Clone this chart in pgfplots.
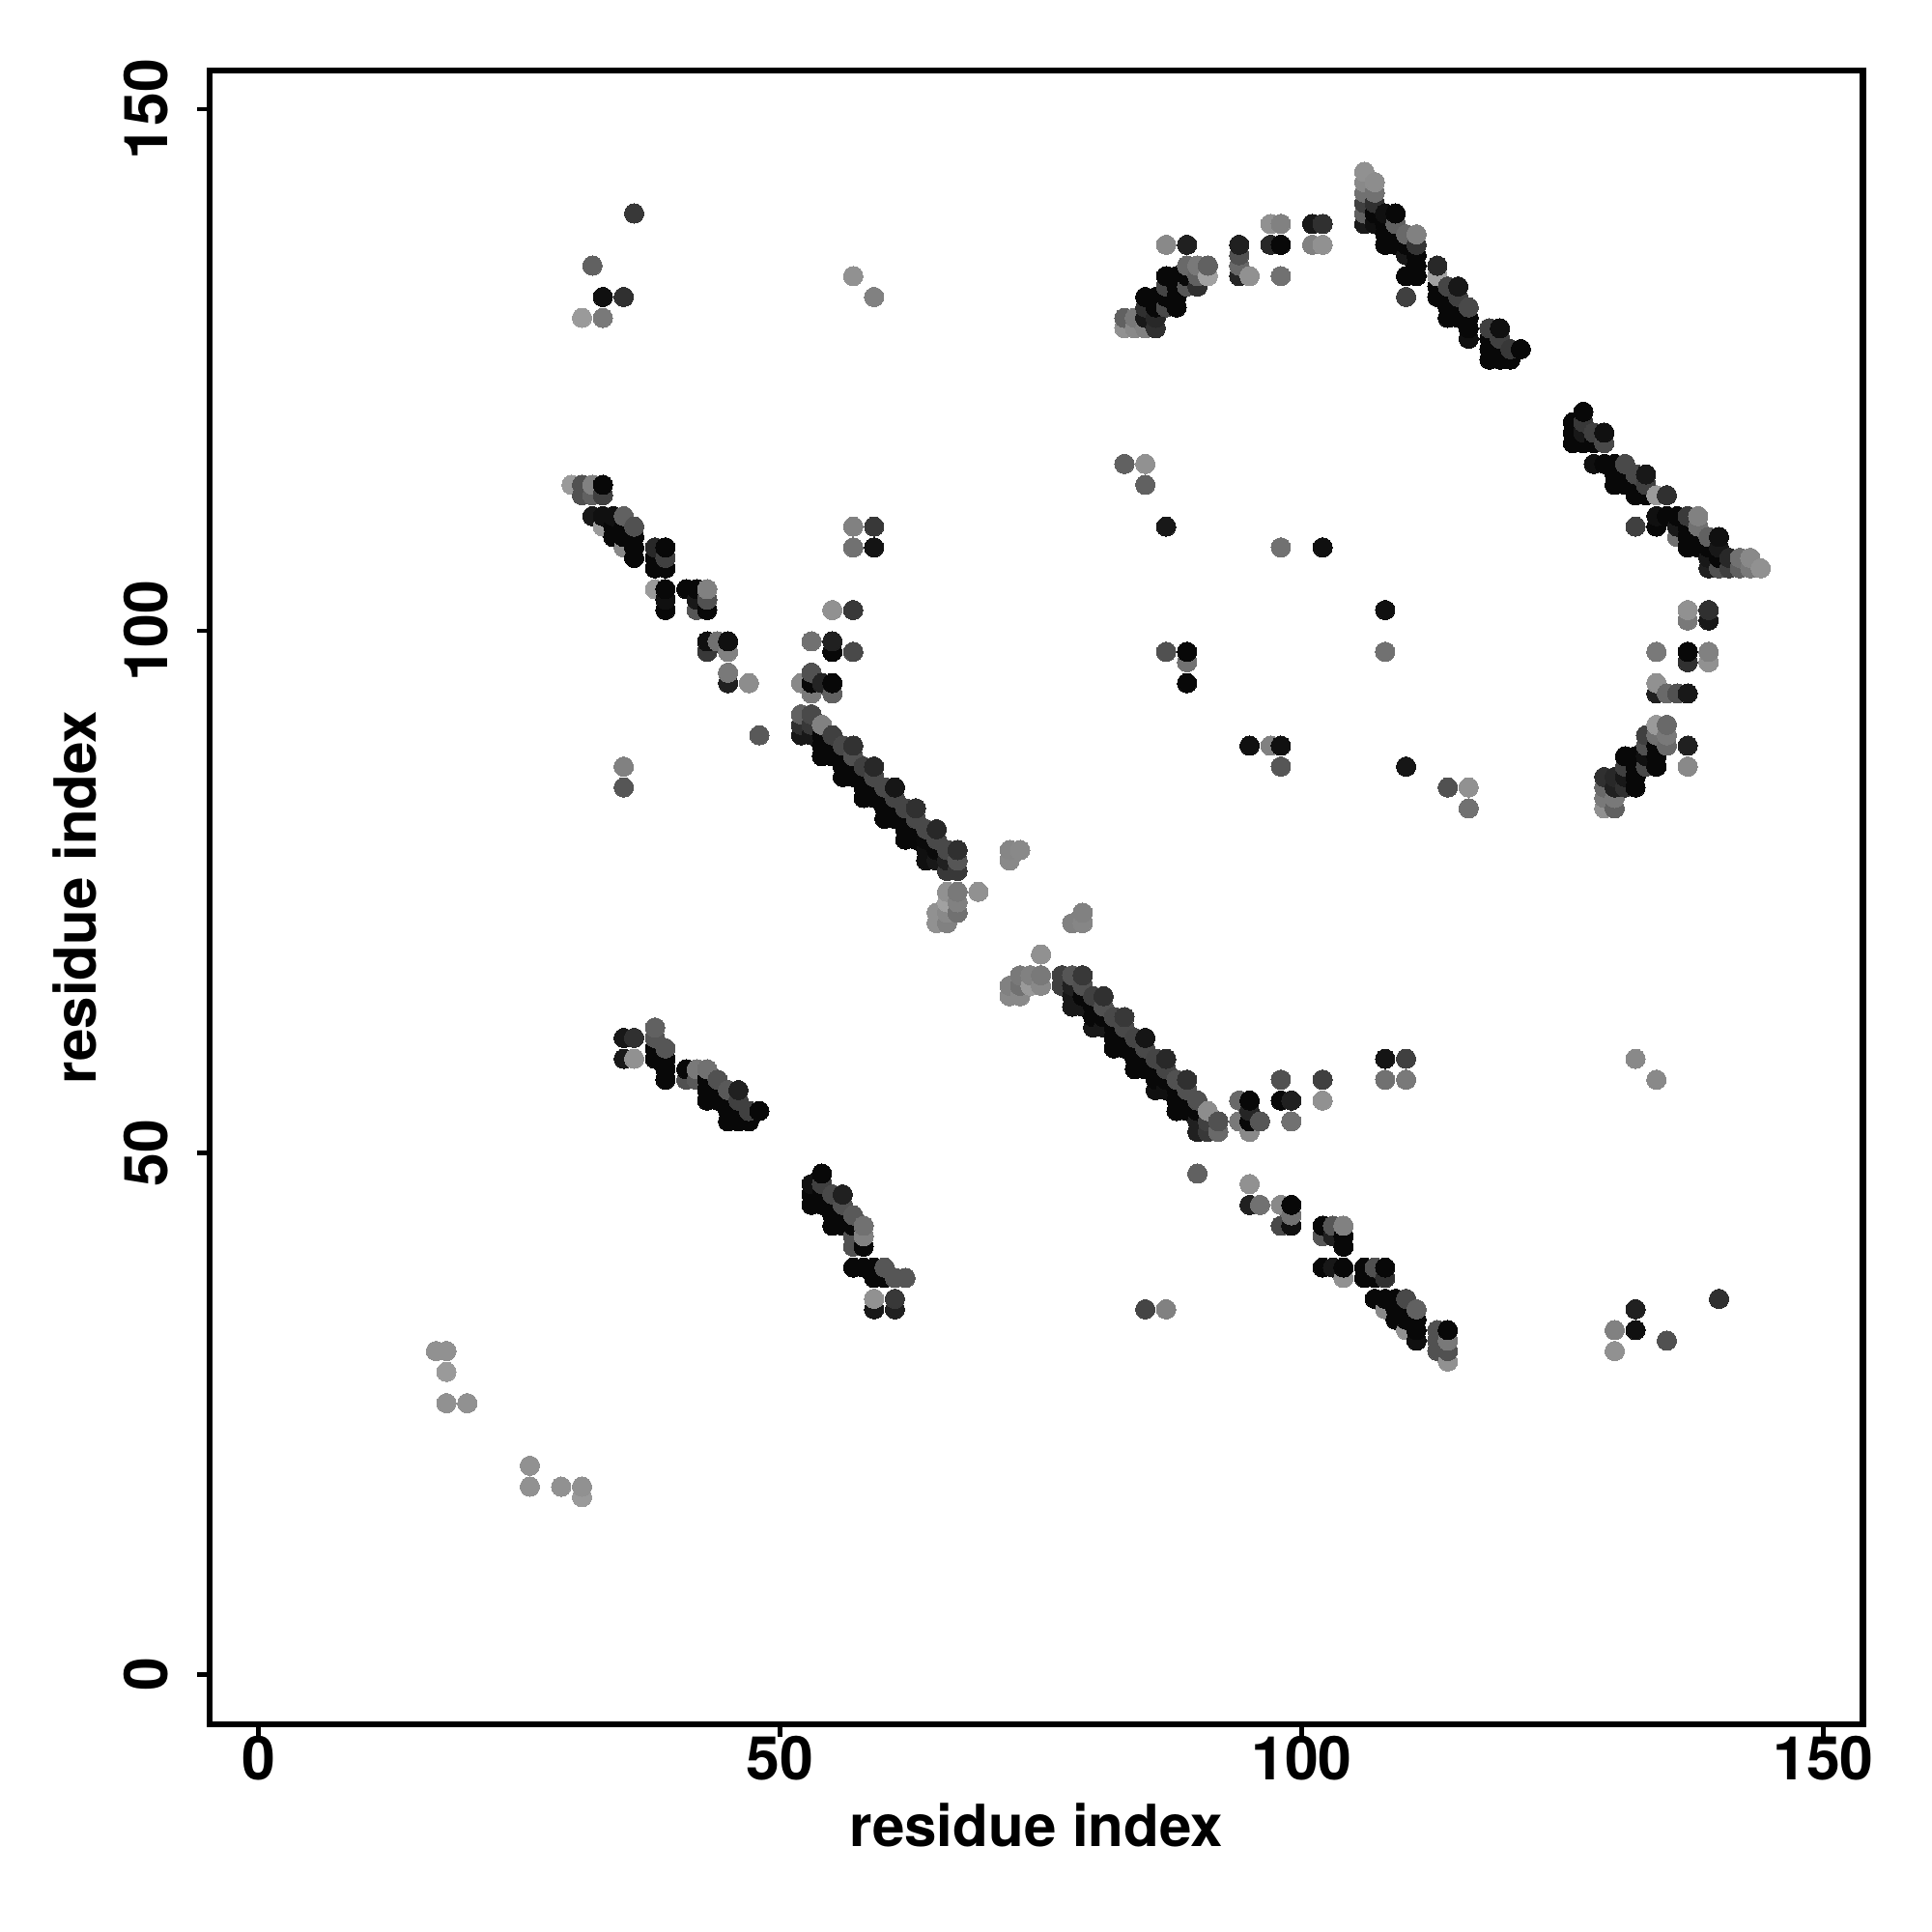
\documentclass[border=0pt]{standalone}
\usepackage{fontspec}
\setmainfont{TeX Gyre Heros}
\usepackage{pgfplots}
\pgfplotsset{compat=1.18}
\begin{document}
\begin{tikzpicture}
\useasboundingbox (-2.17,-2.15) rectangle (17.83,17.85);
\begin{axis}[
scale only axis,
width=17.115cm,
height=17.12cm,
xmin=-4.7, xmax=153.8,
ymin=-4.77, ymax=153.7,
axis line style={line width=1.9pt},
xtick={0,50,100,150},
ytick={0,50,100,150},
tick align=outside,
tick pos=left,
major tick length=3.6pt,
every tick/.style={black,line width=1.3pt},
/pgf/number format/assume math mode=true,
tick label style={font=\fontsize{17.8}{20}\selectfont\bfseries},
label style={font=\fontsize{17.1}{20}\selectfont\bfseries},
yticklabel style={rotate=90,anchor=south},
xticklabel shift=-3.8pt,
yticklabel shift=5pt,
xlabel={residue index},
ylabel={residue index},
xlabel style={yshift=0pt},
ylabel style={yshift=1.2pt},
colormap={g}{color(0cm)=(black); color(1cm)=(white)},
point meta min=0, point meta max=255,
]
\addplot[scatter, only marks, mark=*, mark size=2.85pt, scatter src=explicit,
  mark options={line width=0pt},
  scatter/use mapped color={draw=mapped color,fill=mapped color}]
table[row sep=\\, x=x, y=y, meta=g] {
x y g\\
17 31 144\\
18 26 144\\ 18 29 153\\ 18 31 144\\
20 26 144\\
26 18 144\\ 26 20 144\\
29 18 144\\
30 114 153\\
31 17 153\\ 31 18 144\\ 31 113 80\\ 31 114 80\\ 31 130 153\\
32 111 24\\ 32 113 96\\ 32 114 128\\ 32 135 96\\
33 110 153\\ 33 111 16\\ 33 113 64\\ 33 114 8\\ 33 130 120\\ 33 132 16\\
34 109 8\\ 34 110 8\\ 34 111 16\\
35 59 24\\ 35 61 24\\ 35 85 85\\ 35 87 128\\ 35 108 136\\ 35 109 8\\ 35 110 8\\ 35 111 96\\ 35 132 48\\
36 59 144\\ 36 61 48\\ 36 107 8\\ 36 108 8\\ 36 109 8\\ 36 110 80\\ 36 140 56\\
38 59 8\\ 38 60 8\\ 38 61 85\\ 38 62 96\\ 38 104 153\\ 38 106 8\\ 38 107 8\\ 38 108 40\\
39 57 8\\ 39 58 8\\ 39 59 8\\ 39 60 85\\ 39 102 8\\ 39 103 16\\ 39 104 8\\ 39 106 8\\ 39 107 64\\ 39 108 8\\
41 57 80\\ 41 58 8\\ 41 104 8\\
42 57 88\\ 42 58 120\\ 42 102 85\\ 42 103 24\\ 42 104 8\\
43 55 8\\ 43 56 8\\ 43 57 8\\ 43 58 112\\ 43 98 56\\ 43 99 16\\ 43 102 8\\ 43 103 80\\ 43 104 128\\
44 55 8\\ 44 56 8\\ 44 57 80\\ 44 99 112\\
45 53 8\\ 45 54 8\\ 45 55 8\\ 45 56 88\\ 45 95 32\\ 45 96 120\\ 45 98 128\\ 45 99 16\\
46 53 8\\ 46 54 8\\ 46 55 64\\ 46 56 32\\
47 53 8\\ 47 54 64\\ 47 95 140\\
48 54 8\\ 48 90 88\\
52 90 24\\ 52 91 48\\ 52 92 96\\ 52 95 136\\
53 45 8\\ 53 46 8\\ 53 47 16\\ 53 90 24\\ 53 91 56\\ 53 92 72\\ 53 94 120\\ 53 95 8\\ 53 96 80\\ 53 99 112\\
54 45 8\\ 54 46 8\\ 54 47 64\\ 54 48 8\\ 54 88 8\\ 54 89 8\\ 54 90 8\\ 54 91 128\\ 54 95 36\\
55 43 8\\ 55 44 8\\ 55 45 8\\ 55 46 72\\ 55 88 8\\ 55 89 8\\ 55 90 64\\ 55 94 96\\ 55 95 8\\ 55 98 8\\ 55 99 32\\ 55 102 144\\
56 43 8\\ 56 44 8\\ 56 45 80\\ 56 46 32\\ 56 86 8\\ 56 87 8\\ 56 88 8\\ 56 89 72\\
57 39 8\\ 57 41 80\\ 57 42 80\\ 57 43 8\\ 57 44 88\\ 57 86 8\\ 57 87 8\\ 57 88 80\\ 57 89 50\\ 57 98 72\\ 57 102 56\\ 57 108 112\\ 57 110 128\\ 57 134 144\\
58 39 8\\ 58 41 8\\ 58 42 128\\ 58 43 112\\ 58 84 8\\ 58 85 8\\ 58 86 8\\ 58 87 64\\
59 35 24\\ 59 36 144\\ 59 38 8\\ 59 39 8\\ 59 84 8\\ 59 85 8\\ 59 86 72\\ 59 87 40\\ 59 108 20\\ 59 110 56\\ 59 132 128\\
60 38 8\\ 60 39 85\\ 60 82 8\\ 60 83 8\\ 60 84 8\\ 60 85 72\\
61 35 32\\ 61 36 56\\ 61 38 85\\ 61 82 8\\ 61 83 8\\ 61 84 69\\ 61 85 22\\
62 38 85\\ 62 80 8\\ 62 81 8\\ 62 82 8\\ 62 83 69\\
63 80 8\\ 63 81 8\\ 63 82 72\\ 63 83 48\\
64 78 16\\ 64 79 16\\ 64 80 10\\ 64 81 72\\
65 72 144\\ 65 73 144\\ 65 78 24\\ 65 79 10\\ 65 80 72\\ 65 81 40\\
66 72 128\\ 66 73 136\\ 66 74 160\\ 66 75 144\\ 66 77 56\\ 66 78 32\\ 66 79 72\\
67 73 112\\ 67 74 128\\ 67 75 120\\ 67 77 56\\ 67 78 85\\ 67 79 48\\
69 75 144\\
72 65 136\\ 72 66 128\\ 72 78 136\\ 72 79 133\\
73 65 136\\ 73 66 112\\ 73 67 120\\ 73 79 136\\
74 66 153\\ 74 67 128\\
75 66 136\\ 75 67 120\\ 75 69 144\\
77 66 64\\ 77 67 64\\
78 64 24\\ 78 65 24\\ 78 66 32\\ 78 67 85\\ 78 72 128\\
79 64 24\\ 79 65 8\\ 79 66 80\\ 79 67 56\\ 79 72 133\\ 79 73 128\\
80 62 24\\ 80 63 8\\ 80 64 8\\ 80 65 64\\
81 62 24\\ 81 63 8\\ 81 64 80\\ 81 65 48\\
82 60 8\\ 82 61 8\\ 82 62 8\\ 82 63 72\\
83 60 8\\ 83 61 8\\ 83 62 72\\ 83 63 56\\ 83 116 96\\ 83 129 144\\ 83 130 96\\
84 58 8\\ 84 59 8\\ 84 60 8\\ 84 61 69\\ 84 129 136\\ 84 130 120\\
85 35 69\\ 85 58 8\\ 85 59 8\\ 85 60 72\\ 85 61 21\\ 85 114 96\\ 85 116 144\\ 85 129 128\\ 85 130 24\\ 85 131 48\\ 85 132 8\\
86 56 16\\ 86 57 8\\ 86 58 8\\ 86 59 69\\ 86 129 48\\ 86 130 40\\ 86 131 8\\ 86 132 8\\
87 35 128\\ 87 56 16\\ 87 57 8\\ 87 58 69\\ 87 59 40\\ 87 98 80\\ 87 110 24\\ 87 131 72\\ 87 132 8\\ 87 133 69\\ 87 134 8\\ 87 137 136\\
88 54 8\\ 88 55 8\\ 88 56 8\\ 88 57 80\\ 88 131 8\\ 88 132 8\\ 88 133 8\\ 88 134 8\\
89 54 8\\ 89 55 8\\ 89 56 80\\ 89 57 48\\ 89 95 8\\ 89 97 112\\ 89 98 8\\ 89 133 85\\ 89 134 8\\ 89 135 104\\ 89 137 32\\
90 48 96\\ 90 52 32\\ 90 53 32\\ 90 54 8\\ 90 55 80\\ 90 133 48\\ 90 134 96\\ 90 135 120\\
91 52 56\\ 91 53 64\\ 91 54 140\\ 91 134 160\\ 91 135 96\\
92 52 104\\ 92 53 80\\
94 53 120\\ 94 55 104\\ 94 134 37\\ 94 135 104\\ 94 136 80\\ 94 137 32\\
95 45 32\\ 95 47 144\\ 95 52 136\\ 95 53 8\\ 95 54 37\\ 95 55 8\\ 95 89 16\\ 95 134 144\\
96 45 112\\ 96 53 85\\
97 89 128\\ 97 137 40\\ 97 139 144\\
98 43 72\\ 98 45 136\\ 98 55 8\\ 98 57 80\\ 98 87 85\\ 98 89 16\\ 98 108 112\\ 98 134 112\\ 98 137 8\\ 98 139 128\\
99 43 16\\ 99 44 112\\ 99 45 8\\ 99 53 112\\ 99 55 32\\
101 137 128\\ 101 139 24\\
102 39 8\\ 102 42 85\\ 102 43 8\\ 102 55 144\\ 102 57 64\\ 102 108 16\\ 102 137 144\\ 102 139 48\\
103 39 24\\ 103 42 32\\ 103 43 85\\
104 38 144\\ 104 39 8\\ 104 41 8\\ 104 42 8\\ 104 43 128\\
106 38 8\\ 106 39 8\\ 106 139 26\\ 106 140 96\\ 106 141 64\\ 106 142 112\\ 106 143 136\\ 106 144 144\\
107 36 8\\ 107 38 8\\ 107 39 80\\ 107 139 16\\ 107 140 8\\ 107 141 48\\ 107 142 112\\ 107 143 140\\
108 35 136\\ 108 36 8\\ 108 38 48\\ 108 39 8\\ 108 57 112\\ 108 59 20\\ 108 98 112\\ 108 102 16\\ 108 137 8\\ 108 138 8\\ 108 139 8\\ 108 140 16\\
109 34 8\\ 109 35 8\\ 109 36 8\\ 109 137 8\\ 109 138 8\\ 109 139 96\\ 109 140 8\\
110 33 144\\ 110 34 8\\ 110 35 8\\ 110 36 72\\ 110 57 120\\ 110 59 64\\ 110 87 22\\ 110 132 64\\ 110 134 8\\ 110 136 24\\ 110 137 8\\ 110 138 104\\
111 32 16\\ 111 33 8\\ 111 34 8\\ 111 35 96\\ 111 134 8\\ 111 135 8\\ 111 136 8\\ 111 137 53\\ 111 138 128\\
113 31 80\\ 113 32 80\\ 113 33 80\\ 113 132 8\\ 113 133 8\\ 113 134 160\\ 113 135 40\\
114 30 144\\ 114 31 80\\ 114 32 120\\ 114 33 8\\ 114 85 80\\ 114 130 8\\ 114 131 8\\ 114 132 8\\ 114 133 69\\
115 130 8\\ 115 131 8\\ 115 132 64\\ 115 133 24\\
116 83 112\\ 116 85 144\\ 116 128 16\\ 116 129 8\\ 116 130 8\\ 116 131 72\\
118 126 8\\ 118 127 8\\ 118 128 8\\ 118 129 64\\
119 126 8\\ 119 127 8\\ 119 128 64\\ 119 129 16\\
120 126 8\\ 120 127 56\\
121 127 8\\
126 118 8\\ 126 119 8\\ 126 120 8\\
127 118 8\\ 127 119 24\\ 127 120 56\\ 127 121 8\\
128 116 16\\ 128 118 8\\ 128 119 64\\
129 83 144\\ 129 84 120\\ 129 85 104\\ 129 86 48\\ 129 116 8\\ 129 118 72\\ 129 119 16\\
130 31 144\\ 130 33 128\\ 130 83 96\\ 130 84 120\\ 130 85 32\\ 130 86 40\\ 130 114 8\\ 130 115 8\\ 130 116 8\\
131 85 48\\ 131 86 24\\ 131 87 64\\ 131 88 8\\ 131 114 8\\ 131 115 8\\ 131 116 72\\
132 33 16\\ 132 35 32\\ 132 59 136\\ 132 85 8\\ 132 86 8\\ 132 87 8\\ 132 88 8\\ 132 110 64\\ 132 113 8\\ 132 114 8\\ 132 115 72\\
133 87 72\\ 133 88 16\\ 133 89 80\\ 133 90 64\\ 133 113 8\\ 133 114 64\\ 133 115 24\\
134 57 136\\ 134 87 8\\ 134 88 8\\ 134 89 8\\ 134 90 112\\ 134 91 153\\ 134 94 32\\ 134 95 144\\ 134 98 120\\ 134 110 8\\ 134 111 16\\ 134 113 153\\
135 32 80\\ 135 89 104\\ 135 90 120\\ 135 91 104\\ 135 94 104\\ 135 111 8\\ 135 113 48\\
136 94 80\\ 136 109 112\\ 136 110 24\\ 136 111 8\\
137 87 136\\ 137 89 32\\ 137 94 24\\ 137 97 48\\ 137 98 8\\ 137 101 120\\ 137 102 144\\ 137 108 8\\ 137 109 8\\ 137 110 8\\ 137 111 58\\
138 108 8\\ 138 109 8\\ 138 110 112\\ 138 111 128\\
139 97 144\\ 139 98 128\\ 139 101 24\\ 139 102 48\\ 139 106 32\\ 139 107 24\\ 139 108 8\\ 139 109 96\\
140 36 48\\ 140 106 80\\ 140 107 8\\ 140 108 24\\ 140 109 16\\
141 106 64\\ 141 107 40\\
142 106 96\\ 142 107 112\\
143 106 120\\ 143 107 136\\
144 106 144\\
};
\end{axis}
\end{tikzpicture}
\end{document}
